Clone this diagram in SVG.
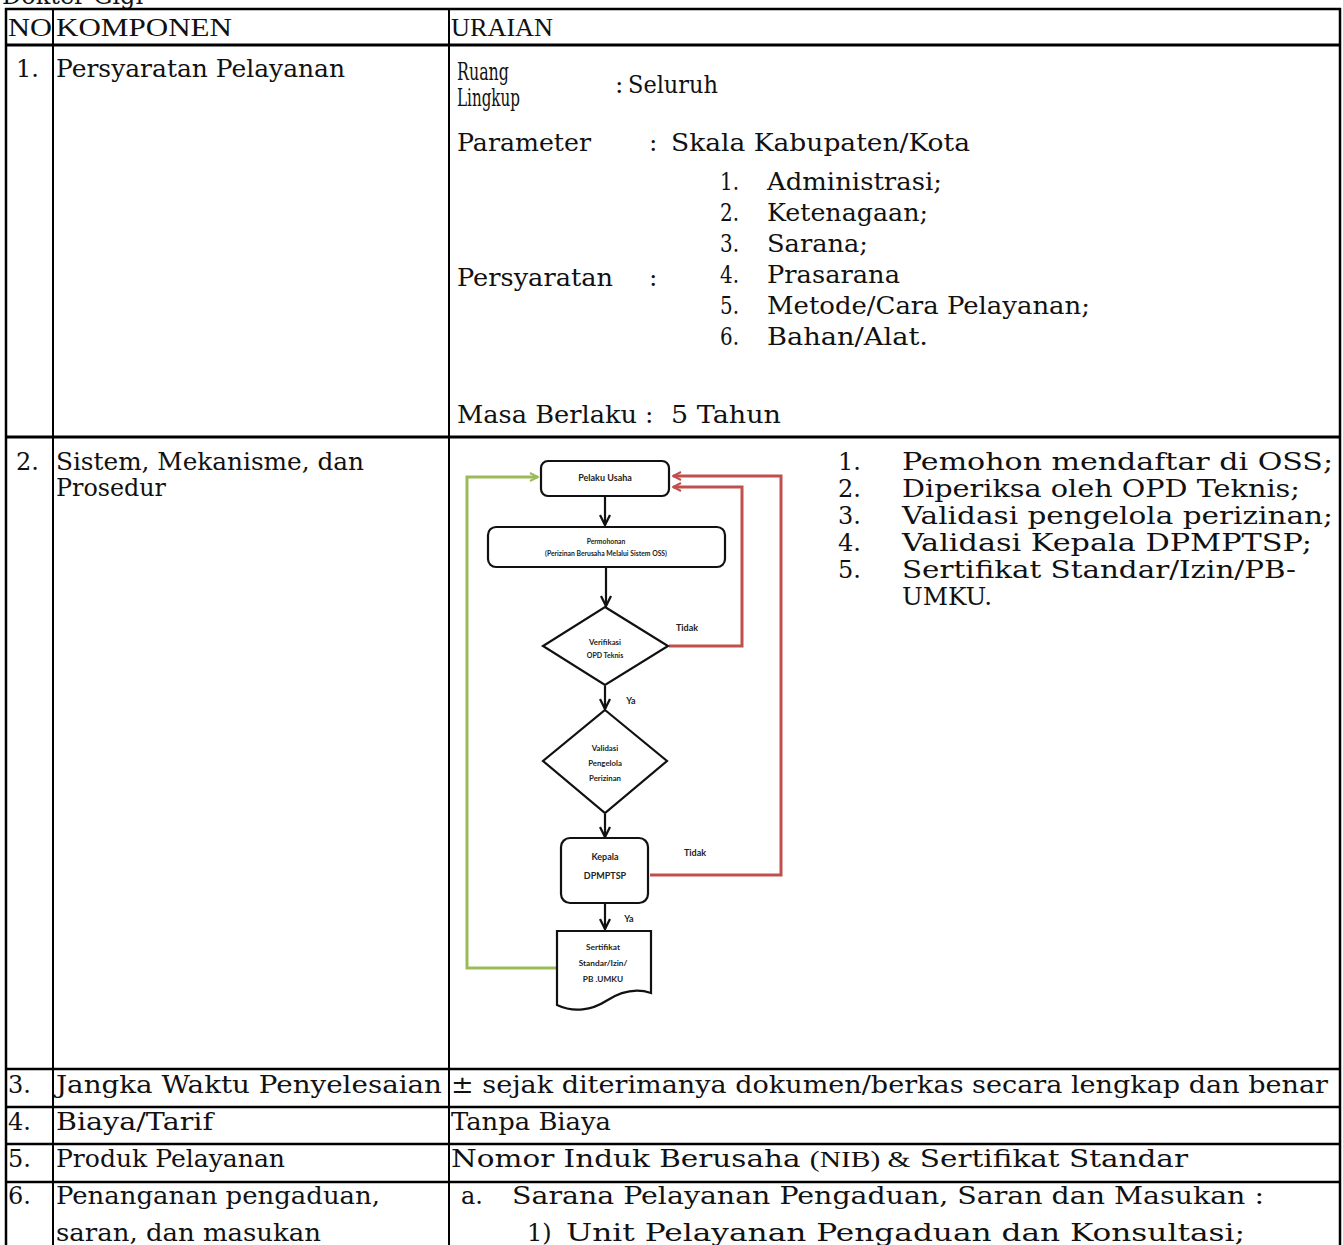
<svg xmlns="http://www.w3.org/2000/svg" width="1343" height="1245" viewBox="0 0 1343 1245">
  <style>
    .bk { font-family: "DejaVu Serif", "Liberation Serif", serif; font-size: 24px; fill: #111; }
    .bl { font-family: "DejaVu Serif", "Liberation Serif", serif; font-size: 24px; fill: #111; }
    .cn { font-family: "DejaVu Serif", "Liberation Serif", serif; font-size: 25px; fill: #111; }
    .hd { font-family: "Liberation Serif", "DejaVu Serif", serif; font-size: 26px; fill: #111; }
    .grid { stroke: #000; stroke-width: 2.5; fill: none; }
    .fc { font-family: Lato, "Open Sans", "Liberation Sans", sans-serif; font-weight: bold; fill: #222; text-anchor: middle; }
    .shape { fill: #fff; stroke: #111; stroke-width: 2.2; }
    .blk { stroke: #111; stroke-width: 2.2; fill: none; }
    .red { stroke: #c0504d; stroke-width: 3; fill: none; }
    .grn { stroke: #9bbb59; stroke-width: 3; fill: none; }
  </style>
  <defs>
    <marker id="ah" viewBox="0 0 12 12" refX="11" refY="6" markerWidth="12" markerHeight="12" markerUnits="userSpaceOnUse" orient="auto">
      <path d="M1,1 L11,6 L1,11" fill="none" stroke="#111" stroke-width="2.3"/>
    </marker>
    <marker id="ahr" viewBox="0 0 10 10" refX="9" refY="5" markerWidth="10" markerHeight="10" markerUnits="userSpaceOnUse" orient="auto">
      <path d="M1,1 L9,5 L1,9" fill="none" stroke="#c0504d" stroke-width="2"/>
    </marker>
    <marker id="ahg" viewBox="0 0 10 10" refX="9" refY="5" markerWidth="10" markerHeight="10" markerUnits="userSpaceOnUse" orient="auto">
      <path d="M1,1 L9,5 L1,9" fill="none" stroke="#9bbb59" stroke-width="2"/>
    </marker>
  </defs>

  <rect width="1343" height="1245" fill="#fff"/>

  <!-- heading above the table, cut off at the top edge -->
  <text class="bk" x="2" y="4">Dokter Gigi</text>

  <!-- table grid -->
  <g id="table-grid" class="grid">
    <line x1="5" y1="9" x2="1341" y2="9"/>
    <line x1="5" y1="45" x2="1341" y2="45" stroke-width="3"/>
    <line x1="5" y1="437" x2="1341" y2="437" stroke-width="3"/>
    <line x1="5" y1="1069" x2="1341" y2="1069"/>
    <line x1="5" y1="1107" x2="1341" y2="1107"/>
    <line x1="5" y1="1144" x2="1341" y2="1144"/>
    <line x1="5" y1="1182" x2="1341" y2="1182"/>
    <line x1="6" y1="8" x2="6" y2="1245"/>
    <line x1="53" y1="8" x2="53" y2="1245" stroke-width="2"/>
    <line x1="449" y1="8" x2="449" y2="1245" stroke-width="2"/>
    <line x1="1340" y1="8" x2="1340" y2="1245"/>
  </g>

  <!-- header row -->
  <g id="header">
    <text class="hd" x="8" y="36" textLength="44" lengthAdjust="spacingAndGlyphs">NO</text>
    <text class="hd" x="56" y="36" textLength="176" lengthAdjust="spacingAndGlyphs">KOMPONEN</text>
    <text class="hd" x="451" y="36" textLength="102" lengthAdjust="spacingAndGlyphs">URAIAN</text>
  </g>

  <!-- row 1 -->
  <g id="row-1">
    <text class="bk" x="16" y="77">1.</text>
    <text class="bk" x="56" y="77" textLength="289" lengthAdjust="spacingAndGlyphs">Persyaratan Pelayanan</text>
    <text class="cn" x="457" y="80" textLength="52" lengthAdjust="spacingAndGlyphs">Ruang</text>
    <text class="cn" x="457" y="106" textLength="63" lengthAdjust="spacingAndGlyphs">Lingkup</text>
    <text class="cn" x="615" y="93">:</text>
    <text class="cn" x="628" y="93" textLength="90" lengthAdjust="spacingAndGlyphs">Seluruh</text>
    <text class="cn" x="457" y="151" textLength="134" lengthAdjust="spacingAndGlyphs">Parameter</text>
    <text class="cn" x="649" y="151">:</text>
    <text class="cn" x="671" y="151" textLength="299" lengthAdjust="spacingAndGlyphs">Skala Kabupaten/Kota</text>
    <text class="cn" x="720" y="190" textLength="19" lengthAdjust="spacingAndGlyphs">1.</text>
    <text class="cn" x="767" y="190" textLength="175" lengthAdjust="spacingAndGlyphs">Administrasi;</text>
    <text class="cn" x="720" y="221" textLength="19" lengthAdjust="spacingAndGlyphs">2.</text>
    <text class="cn" x="767" y="221" textLength="161" lengthAdjust="spacingAndGlyphs">Ketenagaan;</text>
    <text class="cn" x="720" y="252" textLength="19" lengthAdjust="spacingAndGlyphs">3.</text>
    <text class="cn" x="767" y="252" textLength="101" lengthAdjust="spacingAndGlyphs">Sarana;</text>
    <text class="cn" x="720" y="283" textLength="19" lengthAdjust="spacingAndGlyphs">4.</text>
    <text class="cn" x="767" y="283" textLength="133" lengthAdjust="spacingAndGlyphs">Prasarana</text>
    <text class="cn" x="457" y="286" textLength="156" lengthAdjust="spacingAndGlyphs">Persyaratan</text>
    <text class="cn" x="649" y="286">:</text>
    <text class="cn" x="720" y="314" textLength="19" lengthAdjust="spacingAndGlyphs">5.</text>
    <text class="cn" x="767" y="314" textLength="323" lengthAdjust="spacingAndGlyphs">Metode/Cara Pelayanan;</text>
    <text class="cn" x="720" y="345" textLength="19" lengthAdjust="spacingAndGlyphs">6.</text>
    <text class="cn" x="767" y="345" textLength="161" lengthAdjust="spacingAndGlyphs">Bahan/Alat.</text>
    <text class="cn" x="457" y="423" textLength="180" lengthAdjust="spacingAndGlyphs">Masa Berlaku</text>
    <text class="cn" x="645" y="423">:</text>
    <text class="cn" x="671" y="423" textLength="110" lengthAdjust="spacingAndGlyphs">5 Tahun</text>
  </g>

  <!-- row 2 -->
  <g id="row-2">
    <text class="bk" x="16" y="470">2.</text>
    <text class="bk" x="56" y="470" textLength="308" lengthAdjust="spacingAndGlyphs">Sistem, Mekanisme, dan</text>
    <text class="bk" x="56" y="496" textLength="110" lengthAdjust="spacingAndGlyphs">Prosedur</text>
    <text class="bl" x="838" y="470">1.</text>
    <text class="bl" x="902" y="470" textLength="431" lengthAdjust="spacingAndGlyphs">Pemohon mendaftar di OSS;</text>
    <text class="bl" x="838" y="497">2.</text>
    <text class="bl" x="902" y="497" textLength="398" lengthAdjust="spacingAndGlyphs">Diperiksa oleh OPD Teknis;</text>
    <text class="bl" x="838" y="524">3.</text>
    <text class="bl" x="902" y="524" textLength="431" lengthAdjust="spacingAndGlyphs">Validasi pengelola perizinan;</text>
    <text class="bl" x="838" y="551">4.</text>
    <text class="bl" x="902" y="551" textLength="410" lengthAdjust="spacingAndGlyphs">Validasi Kepala DPMPTSP;</text>
    <text class="bl" x="838" y="578">5.</text>
    <text class="bl" x="902" y="578" textLength="394" lengthAdjust="spacingAndGlyphs">Sertifikat Standar/Izin/PB-</text>
    <text class="bl" x="902" y="605" textLength="90" lengthAdjust="spacingAndGlyphs">UMKU.</text>
  </g>

  <!-- flowchart connectors -->
  <g id="connectors">
    <line class="blk" x1="605" y1="497" x2="605" y2="525" marker-end="url(#ah)"/>
    <line class="blk" x1="606" y1="568" x2="606" y2="606" marker-end="url(#ah)"/>
    <line class="blk" x1="605" y1="686" x2="605" y2="709" marker-end="url(#ah)"/>
    <line class="blk" x1="605" y1="814" x2="605" y2="837" marker-end="url(#ah)"/>
    <line class="blk" x1="605" y1="904" x2="605" y2="929" marker-end="url(#ah)"/>
    <path class="red" d="M669,646 H742 V487 H673" marker-end="url(#ahr)"/>
    <path class="red" d="M650,875 H781 V476 H673" marker-end="url(#ahr)"/>
    <path class="grn" d="M556,968 H467 V477 H538" marker-end="url(#ahg)"/>
    <text class="fc" x="687" y="631" font-size="9">Tidak</text>
    <text class="fc" x="631" y="704" font-size="9">Ya</text>
    <text class="fc" x="695" y="856" font-size="9">Tidak</text>
    <text class="fc" x="629" y="922" font-size="9">Ya</text>
  </g>

  <!-- flowchart nodes -->
  <g id="node-pelaku-usaha">
    <rect class="shape" x="541" y="461" width="128" height="35" rx="7"/>
    <text class="fc" x="605" y="481" font-size="9">Pelaku Usaha</text>
  </g>
  <g id="node-permohonan">
    <rect class="shape" x="488" y="527" width="237" height="40" rx="8"/>
    <text class="fc" x="606" y="544" font-size="6.8" font-weight="normal">Permohonan</text>
    <text class="fc" x="606" y="556" font-size="6.8" font-weight="normal">(Perizinan Berusaha Melalui Sistem OSS)</text>
  </g>
  <g id="node-verifikasi">
    <polygon class="shape" points="605,607 668,646 605,685 543,646"/>
    <text class="fc" x="605" y="645" font-size="7.8">Verifikasi</text>
    <text class="fc" x="605" y="658" font-size="7">OPD Teknis</text>
  </g>
  <g id="node-validasi">
    <polygon class="shape" points="605,710 667,761 605,813 543,761"/>
    <text class="fc" x="605" y="751" font-size="7.8">Validasi</text>
    <text class="fc" x="605" y="766" font-size="7.8">Pengelola</text>
    <text class="fc" x="605" y="781" font-size="7.8">Perizinan</text>
  </g>
  <g id="node-kepala">
    <rect class="shape" x="561" y="838" width="87" height="65" rx="9"/>
    <text class="fc" x="605" y="860" font-size="9">Kepala</text>
    <text class="fc" x="605" y="879" font-size="9">DPMPTSP</text>
  </g>
  <g id="node-sertifikat">
    <path class="shape" d="M557,931 H651 V993 C636,988 620,992 606,1001 C592,1010 574,1013 557,1005 Z"/>
    <text class="fc" x="603" y="950" font-size="8.3">Sertifikat</text>
    <text class="fc" x="603" y="966" font-size="8.3">Standar/Izin/</text>
    <text class="fc" x="603" y="982" font-size="8.3">PB .UMKU</text>
  </g>

  <!-- rows 3 to 6 -->
  <g id="row-3">
    <text class="bk" x="8" y="1093">3.</text>
    <text class="bk" x="56" y="1093" textLength="386" lengthAdjust="spacingAndGlyphs">Jangka Waktu Penyelesaian</text>
    <text class="bk" x="451" y="1093" textLength="877" lengthAdjust="spacingAndGlyphs">± sejak diterimanya dokumen/berkas secara lengkap dan benar</text>
  </g>
  <g id="row-4">
    <text class="bk" x="8" y="1130">4.</text>
    <text class="bk" x="56" y="1130" textLength="157" lengthAdjust="spacingAndGlyphs">Biaya/Tarif</text>
    <text class="bk" x="451" y="1130" textLength="160" lengthAdjust="spacingAndGlyphs">Tanpa Biaya</text>
  </g>
  <g id="row-5">
    <text class="bk" x="8" y="1167">5.</text>
    <text class="bk" x="56" y="1167" textLength="229" lengthAdjust="spacingAndGlyphs">Produk Pelayanan</text>
    <text class="bk" x="451" y="1167" textLength="737" lengthAdjust="spacingAndGlyphs">Nomor Induk Berusaha <tspan font-family="Liberation Serif, serif">(NIB) &amp;</tspan> Sertifikat Standar</text>
  </g>
  <g id="row-6">
    <text class="bk" x="8" y="1204">6.</text>
    <text class="bk" x="56" y="1204" textLength="324" lengthAdjust="spacingAndGlyphs">Penanganan pengaduan,</text>
    <text class="bk" x="56" y="1241" textLength="265" lengthAdjust="spacingAndGlyphs">saran, dan masukan</text>
    <text class="bk" x="461" y="1204">a.</text>
    <text class="bk" x="512" y="1204" textLength="752" lengthAdjust="spacingAndGlyphs">Sarana Pelayanan Pengaduan, Saran dan Masukan :</text>
    <text class="bk" x="527" y="1241">1)</text>
    <text class="bk" x="566" y="1241" textLength="679" lengthAdjust="spacingAndGlyphs">Unit Pelayanan Pengaduan dan Konsultasi;</text>
  </g>
</svg>
